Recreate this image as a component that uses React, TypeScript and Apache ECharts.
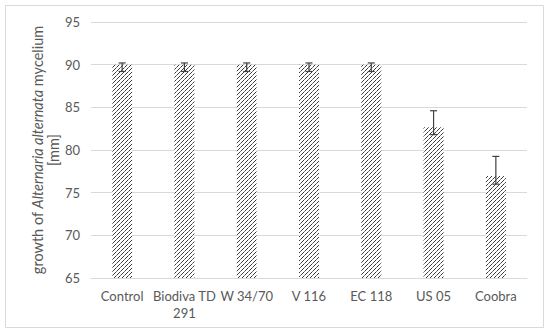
import React, { useEffect, useRef } from "react";
import * as echarts from "echarts";

const categories = ["Control", "Biodiva TD\n291", "W 34/70", "V 116", "EC 118", "US 05", "Coobra"];
const growth = [90, 90, 90, 90, 90, 82.7, 76.95];
const errLow = [89.2, 89.2, 89.2, 89.2, 89.2, 81.8, 76.0];
const errHigh = [90.2, 90.2, 90.2, 90.2, 90.2, 84.6, 79.25];
const yTicks = { min: 65, max: 95, interval: 5 };

function makePattern(): HTMLCanvasElement {
  const c = document.createElement("canvas");
  c.width = 4;
  c.height = 4;
  const ctx = c.getContext("2d")!;
  ctx.fillStyle = "#ffffff";
  ctx.fillRect(0, 0, 4, 4);
  ctx.fillStyle = "#3a3a3a";
  ctx.fillRect(3, 0, 1, 1);
  ctx.fillRect(2, 1, 1, 1);
  ctx.fillRect(1, 2, 1, 1);
  ctx.fillStyle = "#7a7a7a";
  ctx.fillRect(0, 3, 1, 1);
  return c;
}

export default function App() {
  const ref = useRef<HTMLDivElement>(null);
  useEffect(() => {
    if (!ref.current) return;
    const chart = echarts.init(ref.current, undefined, { renderer: "svg" });
    const pattern = makePattern();
    const font = "Lato, 'Noto Sans', sans-serif";
    chart.setOption({
      animation: false,
      backgroundColor: "#ffffff",
      grid: { left: 91, right: 23, top: 22, bottom: 54 },
      graphic: [
        {
          type: "rect",
          shape: { x: 5.5, y: 5.5, width: 538, height: 322 },
          style: { fill: "none", stroke: "#d9d9d9", lineWidth: 1 },
          silent: true,
        },
        {
          type: "text",
          x: 45,
          y: 150,
          rotation: Math.PI / 2,
          style: {
            text: "{n|growth of }{i|Alternaria alternata}{n| mycelium}\n{n|[mm]}",
            align: "center",
            verticalAlign: "middle",
            fill: "#595959",
            rich: {
              n: { fontSize: 14.5, fontFamily: font, fill: "#595959", lineHeight: 16 },
              i: { fontSize: 14.5, fontFamily: font, fontStyle: "italic", fill: "#595959", lineHeight: 16 },
            },
          },
        },
      ],
      xAxis: {
        type: "category",
        data: categories,
        axisLine: { lineStyle: { color: "#d9d9d9" } },
        axisTick: { show: false },
        axisLabel: {
          interval: 0,
          color: "#595959",
          fontSize: 13,
          fontFamily: font,
          lineHeight: 17,
          margin: 9,
        },
      },
      yAxis: {
        type: "value",
        min: yTicks.min,
        max: yTicks.max,
        interval: yTicks.interval,
        axisLine: { show: false },
        axisTick: { show: false },
        splitLine: { lineStyle: { color: "#d9d9d9" } },
        axisLabel: { color: "#595959", fontSize: 13, fontFamily: font, margin: 11 },
      },
      series: [
        {
          type: "bar",
          data: growth,
          barWidth: 20,
          itemStyle: { color: { image: pattern, repeat: "repeat" } },
        },
        {
          type: "custom",
          data: categories.map((_, i) => [i, errLow[i], errHigh[i]]),
          z: 10,
          renderItem: (params: any, api: any) => {
            const x = api.coord([api.value(0), api.value(1)])[0];
            const yl = api.coord([api.value(0), api.value(1)])[1];
            const yh = api.coord([api.value(0), api.value(2)])[1];
            const hw = 3.5;
            const style = { stroke: "#404040", lineWidth: 1.2 };
            return {
              type: "group",
              children: [
                { type: "line", shape: { x1: x, y1: yl, x2: x, y2: yh }, style },
                { type: "line", shape: { x1: x - hw, y1: yl, x2: x + hw, y2: yl }, style },
                { type: "line", shape: { x1: x - hw, y1: yh, x2: x + hw, y2: yh }, style },
              ],
            };
          },
        },
      ],
    });
    return () => chart.dispose();
  }, []);
  return (
    <div
      ref={ref}
      style={{ position: "fixed", left: 0, top: 0, width: 550, height: 332 }}
    />
  );
}
